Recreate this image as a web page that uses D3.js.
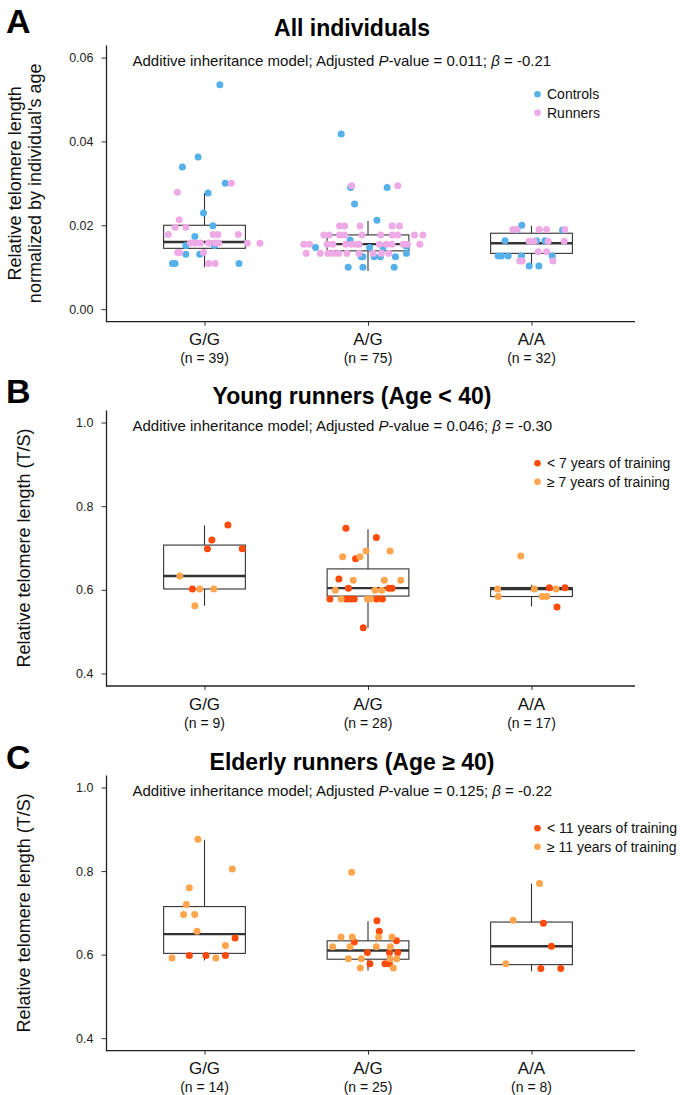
<!DOCTYPE html>
<html><head><meta charset="utf-8">
<script src="https://cdn.jsdelivr.net/npm/d3@7"></script>
<style>
body{margin:0;background:#fff}
svg{display:block}
text{font-family:"Liberation Sans",Arial,Helvetica,sans-serif}
</style>
</head><body>
<svg id="chart" width="680" height="1095"></svg>
<script>
// ---------------- DATA ----------------
const genotypes = ["G/G", "A/G", "A/A"];

// sample sizes per genotype
const nA = [39, 75, 32];
const nB = [9, 28, 17];
const nC = [14, 25, 8];

// boxplot stats per genotype: [lower whisker, Q1, median, Q3, upper whisker]
const boxA = [[0.0100, 0.0145, 0.0160, 0.0200, 0.0277],
              [0.0091, 0.0139, 0.0155, 0.0177, 0.0210],
              [0.0101, 0.0133, 0.0157, 0.0181, 0.0199]];
const boxB = [[0.562, 0.602, 0.633, 0.707, 0.754],
              [0.509, 0.585, 0.604, 0.650, 0.745],
              [0.560, 0.584, 0.602, 0.6055, 0.612]];
const boxC = [[0.586, 0.603, 0.649, 0.715, 0.875],
              [0.562, 0.589, 0.610, 0.633, 0.680],
              [0.560, 0.576, 0.620, 0.678, 0.770]];

// Panel A points: [value, jitter (category units)]
const aControlsGG = [[0.0535,0.094],[0.0363,-0.039],[0.0339,-0.135],[0.0300,0.127],[0.0277,0.022],[0.0229,-0.006],[0.0199,0.051],[0.0173,-0.059],[0.0152,-0.114],[0.0152,0.061],[0.0131,-0.114],[0.0131,-0.029],[0.0109,-0.196],[0.0109,-0.180],[0.0109,0.211]];
const aRunnersGG = [[0.0300,0.164],[0.0279,-0.166],[0.0213,-0.155],[0.0195,-0.180],[0.0195,-0.114],[0.0178,-0.221],[0.0178,0.053],[0.0178,0.082],[0.0178,0.207],[0.0158,-0.086],[0.0158,-0.057],[0.0158,-0.025],[0.0158,0.025],[0.0158,0.065],[0.0158,0.086],[0.0157,0.262],[0.0157,0.339],[0.0135,-0.164],[0.0135,-0.151],[0.0135,-0.006],[0.0109,0.025],[0.0109,0.065]];
const aControlsAG = [[0.0418,-0.164],[0.0290,-0.106],[0.0290,0.117],[0.0251,-0.082],[0.0212,0.055],[0.0165,-0.109],[0.0147,-0.321],[0.0147,0.010],[0.0147,0.092],[0.0125,-0.041],[0.0125,-0.031],[0.0125,0.037],[0.0125,0.076],[0.0125,0.168],[0.0100,-0.121],[0.0100,-0.031],[0.0100,0.160],[0.0150,0.235],[0.0133,0.235]];
const aRunnersAG = [[0.0294,-0.100],[0.0294,0.182],
  [0.0198,-0.174],[0.0198,-0.143],[0.0198,-0.049],[0.0198,0.147],[0.0198,0.192],
  [0.0177,-0.270],[0.0177,-0.237],[0.0177,-0.174],[0.0177,-0.143],[0.0177,-0.037],[0.0177,0.078],[0.0177,0.147],[0.0177,0.182],[0.0177,0.284],[0.0177,0.336],
  [0.0155,-0.393],[0.0155,-0.358],[0.0155,-0.250],[0.0155,-0.215],[0.0155,-0.136],[0.0155,-0.100],[0.0155,-0.069],[0.0155,-0.055],[0.0155,0.070],[0.0155,0.112],[0.0155,0.147],[0.0155,0.215],[0.0155,0.241],[0.0155,0.317],
  [0.0133,-0.378],[0.0133,-0.292],[0.0133,-0.245],[0.0133,-0.215],[0.0133,-0.180],[0.0133,-0.129],[0.0133,-0.055],[0.0133,0.031],[0.0133,0.082],[0.0133,0.127]];
const aControlsAA = [[0.0200,-0.059],[0.0189,-0.089],[0.0189,0.190],[0.0163,-0.162],[0.0163,0.031],[0.0163,0.082],[0.0127,-0.204],[0.0127,-0.184],[0.0127,-0.143],[0.0127,-0.061],[0.0127,0.127],[0.0103,-0.014],[0.0103,0.045]];
const aRunnersAA = [[0.0190,-0.114],[0.0190,-0.090],[0.0190,0.047],[0.0190,0.092],[0.0190,0.204],[0.0162,-0.014],[0.0162,0.016],[0.0162,0.102],[0.0162,0.200],[0.0137,0.041],[0.0137,0.092],[0.0115,-0.072],[0.0115,-0.057],[0.0115,0.131]];

// Panel B points (young runners): < 7 years / >= 7 years of training
const bLessGG = [[0.755,0.143],[0.719,0.045],[0.698,0.018],[0.698,0.231],[0.602,-0.074]];
const bMoreGG = [[0.633,-0.151],[0.602,-0.029],[0.602,0.057],[0.562,-0.059]];
const bLessAG = [[0.747,-0.135],[0.725,0.051],[0.674,-0.076],[0.626,-0.178],[0.604,-0.120],[0.604,0.127],[0.604,0.147],[0.578,-0.233],[0.578,-0.131],[0.578,-0.106],[0.578,-0.084],[0.578,0.053],[0.578,0.088],[0.509,-0.029]];
const bMoreAG = [[0.693,-0.012],[0.693,0.135],[0.679,-0.155],[0.679,-0.049],[0.623,-0.090],[0.623,0.100],[0.623,0.200],[0.599,-0.200],[0.599,0.043],[0.599,0.084],[0.578,-0.165],[0.578,-0.004],[0.578,0.016]];
const bLessAA = [[0.605,0.109],[0.605,0.205],[0.559,0.156]];
const bMoreAA = [[0.681,-0.066],[0.602,-0.207],[0.602,0.017],[0.602,0.150],[0.584,-0.203],[0.584,0.066],[0.584,0.093]];

// Panel C points (elderly runners): < 11 years / >= 11 years of training
const cLessGG = [[0.640,0.187],[0.598,-0.093],[0.598,0.009],[0.598,0.128]];
const cMoreGG = [[0.876,-0.040],[0.805,0.170],[0.760,-0.093],[0.720,-0.111],[0.696,-0.128],[0.696,-0.060],[0.656,-0.046],[0.622,0.128],[0.592,-0.199],[0.592,0.069]];
const cLessAG = [[0.681,0.055],[0.656,0.069],[0.630,-0.084],[0.633,0.174],[0.605,-0.004],[0.605,0.131],[0.605,0.182],[0.578,0.012],[0.578,0.104],[0.578,0.131]];
const cMoreAG = [[0.797,-0.100],[0.642,-0.165],[0.642,-0.096],[0.642,0.065],[0.642,0.147],[0.619,-0.216],[0.619,-0.110],[0.619,0.051],[0.619,0.137],[0.590,-0.120],[0.590,-0.041],[0.590,0.135],[0.590,0.176],[0.568,-0.047],[0.568,0.155]];
const cLessAA = [[0.675,0.073],[0.620,0.122],[0.567,0.057],[0.567,0.179]];
const cMoreAA = [[0.770,0.049],[0.682,-0.112],[0.578,-0.157]];

const ticksA = [0, 0.02, 0.04, 0.06];
const ticksBC = [0.4, 0.6, 0.8, 1.0];

// ---------------- DRAWING ----------------
const svg = d3.select("#chart");
const FONT = '"Liberation Sans", Arial, Helvetica, sans-serif';
const x = d3.scalePoint().domain(genotypes).range([204.5, 531.5]);
const bw = x.step() * 0.5;
const AXIS_L = 106, AXIS_R = 635;

function panel(o) {
  const g = svg.append("g");
  const y = d3.scaleLinear().domain(o.domain).range([o.bottom, o.top]);

  // panel letter & title
  g.append("text").attr("x", 6).attr("y", o.letterY).attr("font-size", 34).attr("font-weight", "bold").text(o.letter);
  g.append("text").attr("x", 352).attr("y", o.titleY).attr("text-anchor", "middle")
    .attr("font-size", 23).attr("font-weight", "bold").text(o.title);

  // subtitle
  const st = g.append("text").attr("x", 132.5).attr("y", o.top + 21).attr("font-size", 15).attr("fill", "#111");
  st.append("tspan").text("Additive inheritance model; Adjusted ");
  st.append("tspan").attr("font-style", "italic").text("P");
  st.append("tspan").text("-value = " + o.p + "; ");
  st.append("tspan").attr("font-style", "italic").text("\u03B2");
  st.append("tspan").text(" = " + o.beta);

  // y axis
  const ya = g.append("g").attr("transform", `translate(${AXIS_L},0)`)
    .call(d3.axisLeft(y).tickValues(o.ticks).tickFormat(d3.format(o.fmt)).tickSize(4.5).tickSizeOuter(0).tickPadding(8));
  ya.select(".domain").attr("stroke", "#222").attr("stroke-width", 1.3);
  ya.selectAll(".tick line").attr("stroke", "#333");
  ya.selectAll(".tick text").attr("font-size", 12.5).attr("fill", "#222").attr("font-family", FONT);

  // x axis
  const xa = g.append("g").attr("transform", `translate(0,${o.bottom})`)
    .call(d3.axisBottom(x).tickSize(4).tickSizeOuter(0).tickFormat(""));
  xa.select(".domain").remove();
  xa.selectAll(".tick line").attr("stroke", "#333");
  g.append("line").attr("x1", AXIS_L).attr("x2", AXIS_R).attr("y1", o.bottom).attr("y2", o.bottom)
    .attr("stroke", "#222").attr("stroke-width", 1.3);
  genotypes.forEach((gt, i) => {
    g.append("text").attr("x", x(gt)).attr("y", o.bottom + 23.5).attr("text-anchor", "middle")
      .attr("font-size", 17).attr("fill", "#111").text(gt);
    g.append("text").attr("x", x(gt)).attr("y", o.bottom + 41.5).attr("text-anchor", "middle")
      .attr("font-size", 14).attr("fill", "#111").text("(n = " + o.n[i] + ")");
  });

  // y axis title
  const yt = g.append("text").attr("transform", `translate(0,${(o.top + o.bottom) / 2}) rotate(-90)`)
    .attr("text-anchor", "middle").attr("font-size", 18).attr("fill", "#111");
  o.ylab.forEach((l, i) => yt.append("tspan").attr("x", 0).attr("y", o.ylabX[i]).text(l));

  // boxes
  genotypes.forEach((gt, i) => {
    const [lo, q1, md, q3, hi] = o.box[i];
    const cx = x(gt);
    const bx = g.append("g").attr("stroke", "#333").attr("stroke-width", 1.1).attr("fill", "none");
    bx.append("line").attr("x1", cx).attr("x2", cx).attr("y1", y(hi)).attr("y2", y(q3));
    bx.append("line").attr("x1", cx).attr("x2", cx).attr("y1", y(q1)).attr("y2", y(lo));
    bx.append("rect").attr("x", cx - bw / 2).attr("width", bw).attr("y", y(q3)).attr("height", y(q1) - y(q3)).attr("fill", "#fff");
    bx.append("line").attr("x1", cx - bw / 2).attr("x2", cx + bw / 2).attr("y1", y(md)).attr("y2", y(md)).attr("stroke-width", 2.4);
  });

  // points
  o.series.forEach(s => {
    s.sets.forEach((pts, i) => {
      g.append("g").selectAll("circle").data(pts).join("circle")
        .attr("cx", d => x(genotypes[i]) + d[1] * x.step())
        .attr("cy", d => y(d[0]))
        .attr("r", 3.5)
        .attr("fill", s.color);
    });
  });

  // legend
  o.series.forEach((s, i) => {
    const ly = o.legendY + i * 18.4;
    g.append("circle").attr("cx", 537.5).attr("cy", ly).attr("r", 3.3).attr("fill", s.color);
    g.append("text").attr("x", 547).attr("y", ly + 5).attr("font-size", 14).attr("fill", "#111").text(s.name);
  });
}

const BLUE = "#56B1EA", PINK = "#EDAAE6", RED = "#FF4A0A", ORANGE = "#FFA54D";

panel({
  letter: "A", letterY: 33, title: "All individuals", titleY: 36,
  domain: [-0.003, 0.063], top: 45, bottom: 321.7, ticks: ticksA, fmt: ".2f",
  p: "0.011", beta: "-0.21", n: nA, box: boxA,
  ylab: ["Relative telomere length", "normalized by individual's age"], ylabX: [21, 41],
  legendY: 94.3,
  series: [
    { name: "Controls", color: BLUE, sets: [aControlsGG, aControlsAG, aControlsAA] },
    { name: "Runners", color: PINK, sets: [aRunnersGG, aRunnersAG, aRunnersAA] }
  ]
});
panel({
  letter: "B", letterY: 403, title: "Young runners (Age < 40)", titleY: 404,
  domain: [0.37, 1.03], top: 410, bottom: 686, ticks: ticksBC, fmt: ".1f",
  p: "0.046", beta: "-0.30", n: nB, box: boxB,
  ylab: ["Relative telomere length (T/S)"], ylabX: [30],
  legendY: 463.3,
  series: [
    { name: "< 7 years of training", color: RED, sets: [bLessGG, bLessAG, bLessAA] },
    { name: "\u2265 7 years of training", color: ORANGE, sets: [bMoreGG, bMoreAG, bMoreAA] }
  ]
});
panel({
  letter: "C", letterY: 769, title: "Elderly runners (Age \u2265 40)", titleY: 770,
  domain: [0.37, 1.03], top: 775, bottom: 1050.7, ticks: ticksBC, fmt: ".1f",
  p: "0.125", beta: "-0.22", n: nC, box: boxC,
  ylab: ["Relative telomere length (T/S)"], ylabX: [30],
  legendY: 828.3,
  series: [
    { name: "< 11 years of training", color: RED, sets: [cLessGG, cLessAG, cLessAA] },
    { name: "\u2265 11 years of training", color: ORANGE, sets: [cMoreGG, cMoreAG, cMoreAA] }
  ]
});
</script>
</body></html>
